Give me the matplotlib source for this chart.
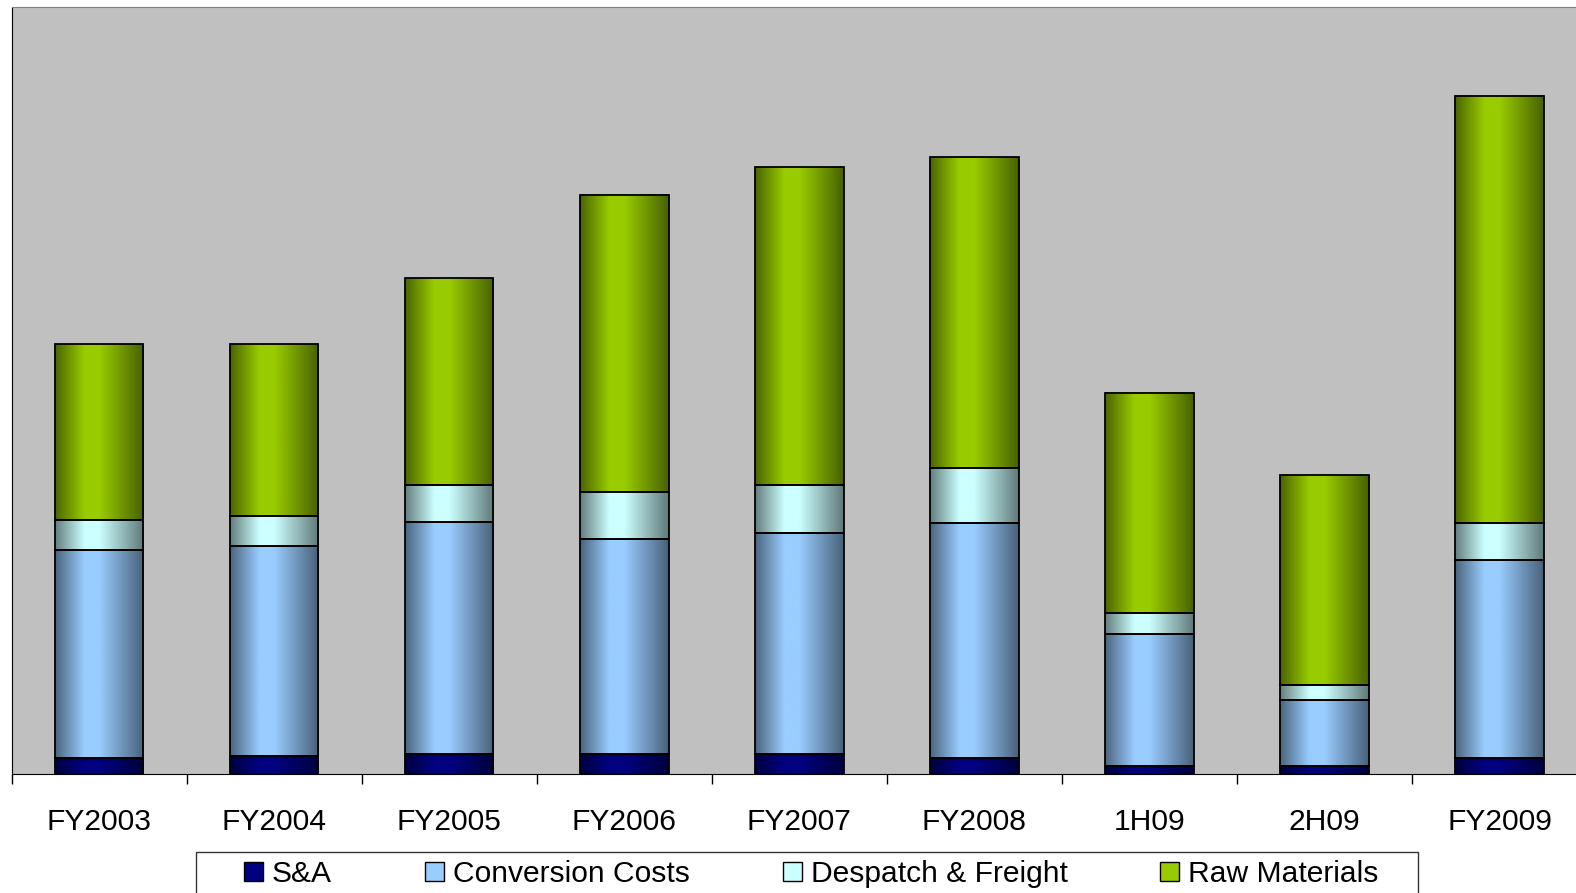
import numpy as np
import matplotlib
matplotlib.use("Agg")
import matplotlib.pyplot as plt
from matplotlib.patches import Patch, Rectangle
from matplotlib.colors import to_rgb

# Categories and stacked cost components (arbitrary units)
categories = ["FY2003", "FY2004", "FY2005", "FY2006", "FY2007",
              "FY2008", "1H09", "2H09", "FY2009"]
s_and_a = [16, 18, 20, 20, 20, 16, 8, 8, 16]
conversion_costs = [207, 209, 231, 214, 220, 234, 132, 66, 197]
despatch_freight = [30, 30, 37, 47, 48, 55, 21, 15, 37]
raw_materials = [175, 171, 206, 296, 316, 309, 219, 209, 425]

series_names = ["S&A", "Conversion Costs", "Despatch & Freight", "Raw Materials"]
series_colors = ["#000080", "#99ccff", "#ccffff", "#99cc00"]

plt.rcParams["font.family"] = ["Liberation Sans", "DejaVu Sans"]


def gradient_image(color, n=64):
    """Horizontal shading: dark edges, bright band left of centre."""
    t = np.linspace(0, 1, n)
    f = np.interp(t, [0.0, 0.33, 0.5, 1.0], [0.5, 1.0, 1.0, 0.48])
    rgb = np.array(to_rgb(color))
    img = f[:, None] * rgb[None, :]
    return img[None, :, :]


W, H = 1576, 893
fig = plt.figure(figsize=(W / 100, H / 100), dpi=100)
ax = fig.add_axes([11.7 / W, 1 - 774.3 / H, (1587 - 11.7) / W, (774.3 - 6.7) / H])
ax.set_facecolor("#c0c0c0")

x = np.arange(len(categories))
bottom = np.zeros(len(categories))
all_series = [s_and_a, conversion_costs, despatch_freight, raw_materials]

for values, color in zip(all_series, series_colors):
    bars = ax.bar(x, values, width=0.505, bottom=bottom, facecolor="none",
                  edgecolor="black", linewidth=1.3, zorder=3)
    # fill each bar with a shaded gradient clipped to its rectangle
    for b in bars:
        x0, y0 = b.get_x(), b.get_y()
        ax.imshow(gradient_image(color), extent=(x0, x0 + b.get_width(), y0, y0 + b.get_height()),
                  aspect="auto", interpolation="bilinear", zorder=2)
    bottom = bottom + np.array(values)

ax.set_xlim(-0.5, len(categories) - 0.5)
ax.set_ylim(0, 764)

# Axes styling
ax.spines["left"].set_color("black")
ax.spines["bottom"].set_color("black")
ax.spines["top"].set_color("#808080")
ax.spines["right"].set_color("#808080")
ax.set_yticks([])

ax.set_xticks(x)
ax.set_xticklabels(categories, fontsize=21.6)
ax.set_xticks(np.arange(-0.5, len(categories), 1), minor=True)
ax.tick_params(axis="x", which="major", length=0, pad=24)
ax.tick_params(axis="x", which="minor", length=7.2, width=1, color="black")

# Legend frame (runs off the bottom of the figure)
frame = Rectangle((196 / W, -0.05), (1418 - 196) / W, (H - 852) / H + 0.05,
                  transform=fig.transFigure, facecolor="white",
                  edgecolor="#333333", linewidth=1, zorder=1)
fig.patches.append(frame)

handles = [Patch(facecolor=c, edgecolor="black", linewidth=1) for c in series_colors]
fig.legend(handles, series_names, loc="center left",
           bbox_to_anchor=(244 / W, 1 - 874 / H), ncol=4, frameon=False,
           fontsize=21.6, handlelength=0.63, handleheight=0.63,
           handletextpad=0.3, columnspacing=3.1, borderpad=0, borderaxespad=0)

plt.savefig("out.png", dpi=100)
